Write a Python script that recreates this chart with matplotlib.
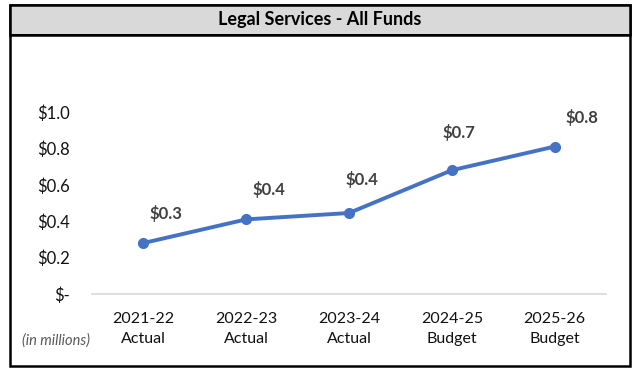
import matplotlib.pyplot as plt
from matplotlib.patches import Rectangle

years = ["2021-22", "2022-23", "2023-24", "2024-25", "2025-26"]
kinds = ["Actual", "Actual", "Actual", "Budget", "Budget"]
funds = [0.28, 0.41, 0.445, 0.68, 0.81]
# label offsets in points (dx, dy) relative to each marker
label_dx = [16.5, 16.5, 9.5, 5, 20]
label_dy = [21.5, 21.5, 24, 27, 21]

plt.rcParams['font.family'] = ['Lato', 'DejaVu Sans']
line_col = '#4472C4'
txt_col = '#404040'

fig = plt.figure(figsize=(6.32, 3.69), dpi=100)
ax = fig.add_axes([92 / 632, 75 / 369, 514 / 632, 182 / 369])

x = list(range(len(years)))
ax.plot(x, funds, color=line_col, lw=2.8, marker='o', ms=7, solid_capstyle='round', zorder=3)
for xi, v, dx, dy in zip(x, funds, label_dx, label_dy):
    ax.annotate(f"${v:.1f}", (xi, v), xytext=(dx, dy), textcoords='offset points',
                ha='center', va='center', fontsize=12, fontweight='bold',
                color=txt_col, annotation_clip=False)

ax.set_xlim(-0.5, 4.5)
ax.set_ylim(0, 1.0)
ax.set_yticks([0, 0.2, 0.4, 0.6, 0.8, 1.0])
ax.set_yticklabels(["$-", "$0.2", "$0.4", "$0.6", "$0.8", "$1.0"])
ax.set_xticks(x)
ax.set_xticklabels([f"{y}\n{k}" for y, k in zip(years, kinds)], linespacing=1.5)
ax.tick_params(axis='y', length=0, pad=16, labelsize=12, labelcolor='#111111')
ax.tick_params(axis='x', length=0, pad=13, labelsize=11.5, labelcolor='#111111')
for s in ['top', 'right', 'left']:
    ax.spines[s].set_visible(False)
ax.spines['bottom'].set_color('#D9D9D9')
ax.spines['bottom'].set_linewidth(1.2)

# outer frame and title bar
fig.patches.append(Rectangle((10 / 632, 3 / 369), 620 / 632, 361 / 369, transform=fig.transFigure,
                             fill=False, edgecolor='black', lw=1.8))
fig.patches.append(Rectangle((10 / 632, 334 / 369), 620 / 632, 30 / 369, transform=fig.transFigure,
                             facecolor='#D9D9D9', edgecolor='black', lw=1.8))
fig.patches.append(Rectangle((10 / 632, 333 / 369), 620 / 632, 2 / 369, transform=fig.transFigure,
                             facecolor='black', edgecolor='none'))
fig.text(320 / 632, 349 / 369, "Legal Services - All Funds", ha='center', va='center',
         fontsize=13, fontweight='bold', color='black')
fig.text(56 / 632, 28 / 369, "(in millions)", ha='center', va='center',
         fontsize=10.5, style='italic', color='#595959')

fig.savefig('out.png', dpi=100)
